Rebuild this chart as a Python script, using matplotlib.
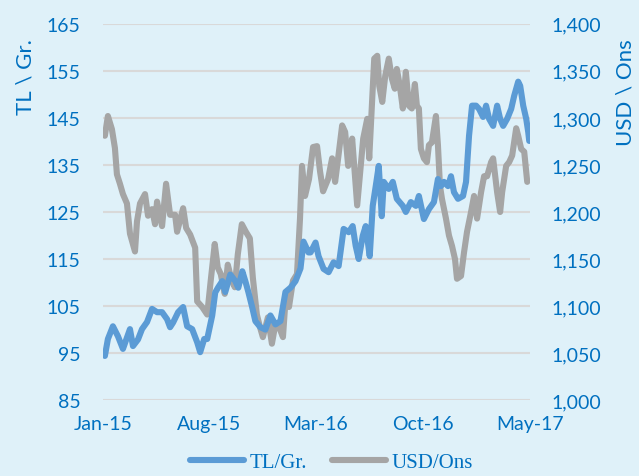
import matplotlib
matplotlib.use("Agg")
import matplotlib.pyplot as plt
from matplotlib.ticker import FuncFormatter
import pandas as pd

# ---- data (day offsets from 2015-01-01) ----
tl_days = [4, 10, 20, 30, 40, 54, 60, 70, 78, 88, 98, 108, 118, 128, 134, 140, 150, 160, 168, 178,
           188, 194, 202, 208, 218, 224, 230, 238, 244, 254, 264, 270, 278, 284, 290, 298, 304, 314,
           324, 334, 344, 354, 364, 374, 384, 394, 400, 410, 414, 424, 430, 440, 450, 460, 470, 480,
           490, 498, 504, 510, 518, 524, 532, 538, 544, 550, 556, 560, 570, 578, 586, 598, 604, 614,
           624, 630, 640, 650, 660, 668, 674, 680, 688, 694, 700, 708, 718, 724, 730, 736, 744, 750,
           758, 764, 770, 778, 786, 792, 798, 806, 814, 820, 828, 832, 838, 844, 848, 850]
tl_values = [94.4, 98.0, 100.7, 98.6, 95.9, 100.1, 96.5, 97.9, 100.1, 101.6, 104.4, 103.7, 103.7,
             102.2, 100.5, 101.5, 103.7, 104.8, 100.7, 100.1, 97.3, 95.2, 98.0, 98.0, 103.0, 107.9,
             109.0, 110.3, 108.0, 111.7, 110.3, 108.9, 112.4, 110.3, 108.0, 104.6, 101.8, 100.5,
             100.0, 103.0, 101.1, 101.8, 108.0, 108.9, 110.3, 113.0, 118.7, 116.4, 116.4, 118.5,
             115.6, 112.9, 112.2, 114.3, 113.5, 121.4, 120.7, 122.0, 117.8, 115.0, 119.9, 122.0,
             115.6, 126.3, 130.5, 134.8, 124.1, 131.4, 129.9, 131.4, 127.8, 126.3, 125.0, 127.1,
             126.3, 128.4, 123.5, 125.6, 127.1, 132.0, 130.5, 131.4, 130.5, 132.6, 129.2, 127.8,
             128.4, 131.4, 141.2, 147.6, 147.6, 146.9, 145.2, 147.6, 144.8, 143.3, 147.6, 144.8,
             143.3, 144.8, 146.9, 149.7, 152.7, 151.8, 147.6, 144.8, 142.0, 140.1]

usd_days = [4, 10, 18, 24, 28, 34, 40, 48, 54, 64, 68, 74, 84, 90, 98, 104, 108, 118, 126, 134,
            144, 148, 160, 166, 174, 184, 188, 198, 208, 215, 223, 229, 235, 243, 249, 257, 263,
            269, 277, 285, 293, 299, 307, 313, 319, 329, 337, 343, 349, 359, 365, 371, 379, 387,
            393, 397, 403, 411, 419, 427, 433, 439, 449, 457, 463, 469, 477, 483, 489, 497, 503,
            507, 513, 519, 527, 531, 537, 541, 547, 551, 557, 563, 570, 576, 582, 586, 592, 598,
            604, 610, 616, 622, 626, 630, 634, 640, 646, 650, 656, 664, 668, 672, 676, 684, 690,
            696, 702, 706, 714, 720, 726, 734, 740, 746, 754, 760, 766, 774, 778, 786, 792, 796,
            804, 810, 816, 824, 828, 834, 840, 846]
usd_values = [1281, 1302, 1288, 1268, 1240, 1230, 1219, 1209, 1177, 1158, 1190, 1209, 1219, 1196,
              1203, 1187, 1211, 1185, 1230, 1197, 1197, 1179, 1204, 1183, 1176, 1162, 1105, 1099,
              1091, 1127, 1166, 1141, 1134, 1113, 1144, 1127, 1120, 1155, 1187, 1179, 1172, 1130,
              1091, 1078, 1067, 1088, 1060, 1078, 1081, 1067, 1113, 1099, 1127, 1134, 1193, 1249,
              1217, 1235, 1269, 1270, 1243, 1222, 1235, 1257, 1232, 1257, 1292, 1285, 1249, 1278,
              1235, 1207, 1243, 1278, 1299, 1257, 1320, 1363, 1366, 1334, 1317, 1345, 1363, 1342,
              1331, 1352, 1334, 1310, 1349, 1313, 1310, 1336, 1313, 1310, 1267, 1257, 1253, 1271,
              1274, 1302, 1271, 1228, 1214, 1193, 1175, 1164, 1150, 1129, 1132, 1157, 1179, 1200,
              1217, 1193, 1221, 1238, 1238, 1253, 1257, 1221, 1200, 1221, 1249, 1253, 1260, 1289,
              1281, 1267, 1264, 1232]

x_tick_labels = ["Jan-15", "Aug-15", "Mar-16", "Oct-16", "May-17"]
x_tick_dates = ["2015-01-01", "2015-08-01", "2016-03-01", "2016-10-01", "2017-05-01"]
left_ticks = [85, 95, 105, 115, 125, 135, 145, 155, 165]
right_ticks = [1000, 1050, 1100, 1150, 1200, 1250, 1300, 1350, 1400]
series_names = ["TL/Gr.", "USD/Ons"]

start = pd.Timestamp("2015-01-01")
tl_dates = start + pd.to_timedelta(tl_days, unit="D")
usd_dates = start + pd.to_timedelta(usd_days, unit="D")

BG = "#DFF1F9"
BLUE = "#5B9BD5"
GRAY = "#A5A5A5"
TXT = "#0070C0"

fig = plt.figure(figsize=(6.39, 4.77), dpi=100, facecolor=BG)
ax = fig.add_axes([0.161, 0.159, 0.668, 0.789])
ax.set_facecolor(BG)
ax2 = ax.twinx()

l1, = ax.plot(tl_dates, tl_values, color=BLUE, lw=4.4, solid_capstyle="round",
              solid_joinstyle="round", zorder=3, label=series_names[0])
l2, = ax2.plot(usd_dates, usd_values, color=GRAY, lw=4.4, solid_capstyle="round",
               solid_joinstyle="round", zorder=2, label=series_names[1])

ax.set_zorder(ax2.get_zorder() + 1)
ax.patch.set_visible(False)
ax2.patch.set_visible(True)
ax2.patch.set_facecolor(BG)

ax.set_ylim(85, 165)
ax2.set_ylim(1000, 1400)
ax.set_yticks(left_ticks)
ax2.set_yticks(right_ticks)
ax2.yaxis.set_major_formatter(FuncFormatter(lambda v, p: f"{int(v):,}"))

xd = pd.to_datetime(x_tick_dates)
ax.set_xlim(xd[0], xd[-1])
ax.set_xticks(xd)
ax.set_xticklabels(x_tick_labels)

font = "Lato"
for a in (ax, ax2):
    for s in a.spines.values():
        s.set_visible(False)
    a.tick_params(length=0, labelsize=14, labelcolor=TXT)
    for lab in a.get_xticklabels() + a.get_yticklabels():
        lab.set_fontfamily(font)
ax.tick_params(axis="x", pad=11)
ax.tick_params(axis="y", pad=16)
ax2.tick_params(axis="y", pad=16)

ax2.grid(axis="y", color="#D9D9D9", lw=1.5, zorder=0)
ax2.set_axisbelow(True)

ax.set_ylabel("TL \\ Gr.", fontsize=16, color=TXT, fontfamily=font)
ax.yaxis.set_label_coords(-0.158, 0.86)
ax2.set_ylabel("USD \\ Ons", fontsize=16, color=TXT, fontfamily=font, rotation=90)
ax2.yaxis.set_label_coords(1.20, 0.82)

leg = fig.legend([l1, l2], series_names, loc="center", bbox_to_anchor=(0.519, 0.029),
                 ncol=2, frameon=False, handlelength=2.6, columnspacing=1.2, handletextpad=0.25,
                 prop={"family": "Liberation Serif", "size": 15})
for t in leg.get_texts():
    t.set_color(TXT)

fig.savefig("out.png", dpi=100, facecolor=BG)
